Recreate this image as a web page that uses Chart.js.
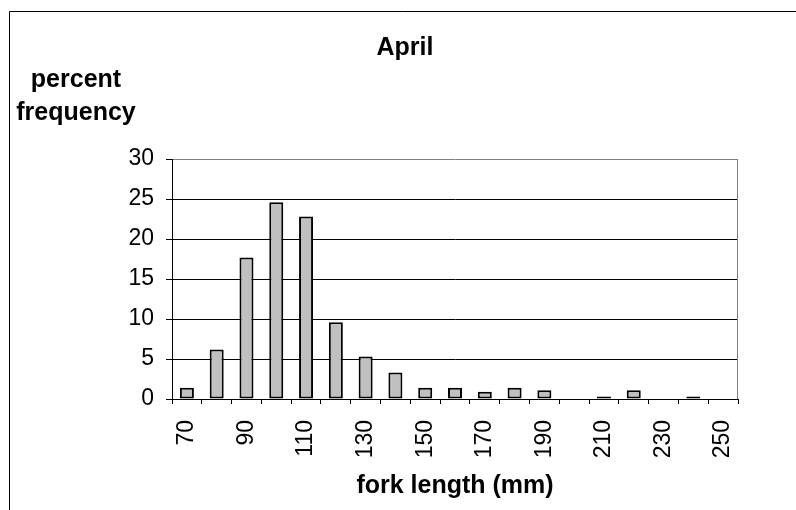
<!DOCTYPE html>
<html>
<head>
<meta charset="utf-8">
<script src="https://cdn.jsdelivr.net/npm/chart.js@4/dist/chart.umd.min.js"></script>
<style>
  html, body { margin: 0; padding: 0; background: #ffffff; }
  #wrap { position: relative; width: 796px; height: 510px; }
</style>
</head>
<body>
<div id="wrap"><canvas id="c" width="796" height="510"></canvas></div>
<script>
const chartTitle = 'April';
const yTitleLines = ['percent', 'frequency'];
const xTitle = 'fork length (mm)';
const categories = ['70','80','90','100','110','120','130','140','150','160','170','180','190','200','210','220','230','240','250'];
const percentFrequency = [1.4, 6.2, 17.7, 24.6, 22.8, 9.6, 5.3, 3.3, 1.4, 1.4, 0.9, 1.4, 1.1, 0, 0.3, 1.1, 0, 0.3, 0];
const xTickLabels = ['70','90','110','130','150','170','190','210','230','250'];
const yTickValues = [0, 5, 10, 15, 20, 25, 30];

const FONT = '"Liberation Sans", Arial, Helvetica, sans-serif';
Chart.defaults.font.family = FONT;
Chart.defaults.color = '#000000';

const decor = {
  id: 'decor',
  beforeDraw(chart) {
    const ctx = chart.ctx;
    ctx.save();
    ctx.fillStyle = '#ffffff';
    ctx.fillRect(0, 0, chart.width, chart.height);
    ctx.strokeStyle = '#000000';
    ctx.lineWidth = 1;
    ctx.beginPath();
    ctx.moveTo(9.5, chart.height);
    ctx.lineTo(9.5, 11.5);
    ctx.lineTo(chart.width, 11.5);
    ctx.stroke();
    ctx.restore();
  },
  afterDraw(chart) {
    const ctx = chart.ctx;
    const a = chart.chartArea;
    ctx.save();
    ctx.strokeStyle = '#808080';
    ctx.lineWidth = 1;
    ctx.beginPath();
    ctx.moveTo(Math.round(a.right) - 0.5, a.top);
    ctx.lineTo(Math.round(a.right) - 0.5, a.bottom);
    ctx.stroke();
    ctx.fillStyle = '#000000';
    ctx.font = 'bold 25px ' + FONT;
    ctx.textAlign = 'center';
    ctx.textBaseline = 'alphabetic';
    ctx.fillText(chartTitle, 405, 55);
    ctx.fillText(yTitleLines[0], 76, 87);
    ctx.fillText(yTitleLines[1], 76, 120);
    ctx.restore();
  }
};

new Chart(document.getElementById('c'), {
  type: 'bar',
  data: {
    labels: categories,
    datasets: [{
      data: percentFrequency,
      backgroundColor: '#c0c0c0',
      borderColor: '#000000',
      borderWidth: 2,
      borderSkipped: false,
      barPercentage: 0.47,
      categoryPercentage: 1.0
    }]
  },
  options: {
    responsive: false,
    animation: false,
    events: [],
    layout: { padding: { top: 159, right: 58, left: 0, bottom: 0 } },
    plugins: {
      legend: { display: false },
      title: { display: false },
      tooltip: { enabled: false }
    },
    scales: {
      x: {
        offset: true,
        grid: {
          display: true,
          offset: true,
          drawOnChartArea: false,
          drawTicks: true,
          tickLength: 5,
          color: '#000000',
          lineWidth: 1
        },
        border: { display: true, color: '#000000', width: 1 },
        ticks: {
          autoSkip: false,
          maxRotation: 90,
          minRotation: 90,
          padding: 16,
          color: '#000000',
          font: { size: 23 },
          callback: function (value, index) {
            const lab = this.getLabelForValue(value);
            return xTickLabels.includes(lab) ? lab : '';
          }
        },
        title: {
          display: true,
          text: xTitle,
          color: '#000000',
          font: { size: 25, weight: 'bold' },
          padding: { top: 0, bottom: 9 }
        },
        afterFit(scale) { scale.height = 111; }
      },
      y: {
        min: 0,
        max: 30,
        afterBuildTicks(scale) { scale.ticks = yTickValues.map(v => ({ value: v })); },
        grid: {
          drawTicks: true,
          tickLength: 6,
          tickColor: '#000000',
          lineWidth: 1,
          color: (c) => (c.tick && c.tick.value === 30) ? '#808080' : '#000000'
        },
        border: { display: true, color: '#000000', width: 1 },
        ticks: {
          padding: 12,
          color: '#000000',
          font: { size: 23 }
        },
        afterFit(scale) { scale.width = 172; }
      }
    }
  },
  plugins: [decor]
});
</script>
</body>
</html>
